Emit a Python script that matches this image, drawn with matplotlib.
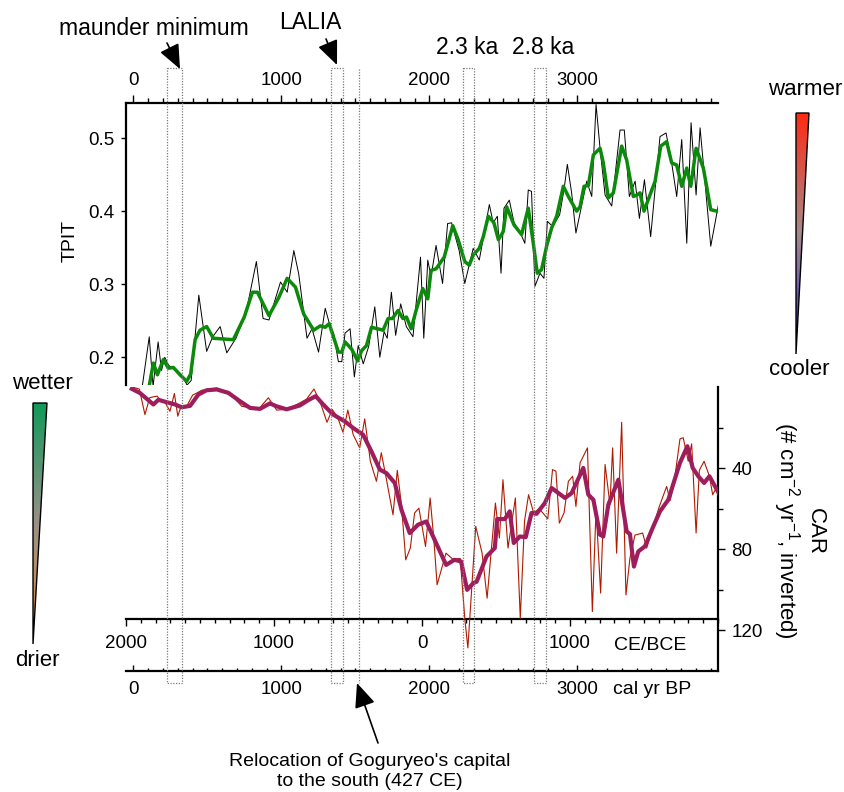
import numpy as np
import matplotlib
matplotlib.use('Agg')
import matplotlib.pyplot as plt
from matplotlib.ticker import MultipleLocator, FixedLocator
from matplotlib.patches import Rectangle, Polygon
from matplotlib.colors import LinearSegmentedColormap
import matplotlib.transforms as mtrans

plt.rcParams['font.family'] = ['Liberation Sans', 'DejaVu Sans']

# ---------------- data (cal yr BP) ----------------
tpit_raw_age = [60, 107, 133, 167, 190, 212, 235, 257, 290, 330,
                362, 390, 442, 495, 536, 586, 631, 693, 760, 831,
                876, 916, 994, 1039, 1084, 1117, 1173, 1207, 1251, 1296,
                1330, 1352, 1385, 1408, 1430, 1464, 1493, 1519, 1553, 1590,
                1631, 1665, 1694, 1715, 1743, 1772, 1806, 1844, 1889, 1940,
                1962, 1989, 2011, 2045, 2089, 2123, 2150, 2201, 2239, 2296,
                2337, 2405, 2431, 2459, 2484, 2504, 2540, 2572, 2610, 2645,
                2668, 2690, 2713, 2747, 2774, 2797, 2833, 2880, 2910, 2932,
                2961, 2990, 3063, 3097, 3126, 3153, 3187, 3232, 3288, 3317,
                3351, 3390, 3419, 3453, 3495, 3558, 3599, 3637, 3671, 3705,
                3739, 3768, 3802, 3829, 3901, 3955]
tpit_raw = [0.160, 0.228, 0.160, 0.221, 0.182, 0.200, 0.190, 0.185, 0.183, 0.175,
            0.162, 0.168, 0.285, 0.208, 0.228, 0.242, 0.206, 0.226, 0.260, 0.331,
            0.253, 0.251, 0.303, 0.289, 0.346, 0.314, 0.226, 0.239, 0.207, 0.267,
            0.242, 0.233, 0.194, 0.194, 0.233, 0.239, 0.173, 0.216, 0.191, 0.215,
            0.269, 0.200, 0.235, 0.226, 0.289, 0.230, 0.273, 0.242, 0.228, 0.337,
            0.226, 0.333, 0.310, 0.353, 0.301, 0.383, 0.384, 0.346, 0.301, 0.349,
            0.333, 0.409, 0.384, 0.393, 0.315, 0.404, 0.415, 0.384, 0.372, 0.356,
            0.429, 0.427, 0.297, 0.315, 0.308, 0.386, 0.379, 0.395, 0.430, 0.464,
            0.425, 0.370, 0.441, 0.420, 0.546, 0.486, 0.422, 0.407, 0.511, 0.511,
            0.420, 0.441, 0.390, 0.443, 0.365, 0.502, 0.507, 0.466, 0.420, 0.498,
            0.356, 0.521, 0.422, 0.514, 0.352, 0.411]

tpit_smooth_age = [108, 135, 162, 203, 236, 270, 315, 360, 387, 417,
                   450, 495, 540, 675, 749, 804, 838, 916, 983, 1039,
                   1095, 1151, 1218, 1263, 1296, 1323, 1385, 1408, 1430, 1475,
                   1515, 1542, 1575, 1609, 1649, 1687, 1721, 1750, 1788, 1821,
                   1845, 1877, 1910, 1955, 1989, 2011, 2045, 2100, 2158, 2194,
                   2239, 2269, 2296, 2337, 2364, 2398, 2436, 2466, 2499, 2522,
                   2572, 2623, 2668, 2702, 2729, 2758, 2792, 2826, 2860, 2905,
                   2939, 2995, 3018, 3045, 3074, 3108, 3153, 3175, 3209, 3243,
                   3299, 3333, 3378, 3401, 3423, 3450, 3525, 3563, 3603, 3637,
                   3671, 3705, 3739, 3766, 3802, 3851, 3901, 3941]
tpit_smooth = [0.162, 0.192, 0.176, 0.197, 0.185, 0.186, 0.176, 0.167, 0.177, 0.224,
               0.237, 0.242, 0.226, 0.224, 0.255, 0.289, 0.289, 0.257, 0.282, 0.308,
               0.296, 0.259, 0.237, 0.243, 0.241, 0.246, 0.207, 0.207, 0.221, 0.211,
               0.195, 0.209, 0.216, 0.241, 0.239, 0.237, 0.253, 0.253, 0.264, 0.253,
               0.255, 0.239, 0.264, 0.294, 0.280, 0.319, 0.321, 0.337, 0.380, 0.361,
               0.331, 0.326, 0.340, 0.349, 0.365, 0.393, 0.384, 0.361, 0.372, 0.406,
               0.381, 0.368, 0.404, 0.356, 0.315, 0.320, 0.352, 0.377, 0.393, 0.434,
               0.420, 0.400, 0.406, 0.434, 0.435, 0.477, 0.486, 0.466, 0.418, 0.425,
               0.489, 0.470, 0.420, 0.422, 0.425, 0.400, 0.441, 0.489, 0.495, 0.466,
               0.463, 0.434, 0.459, 0.434, 0.486, 0.459, 0.402, 0.400]

car_raw_age = [-11, 40, 78, 110, 131, 161, 176, 216, 247, 277,
               300, 322, 360, 400, 430, 462, 563, 653, 732, 845,
               912, 968, 1036, 1120, 1170, 1220, 1260, 1308, 1344, 1380,
               1416, 1449, 1485, 1529, 1563, 1601, 1642, 1675, 1710, 1754,
               1783, 1811, 1840, 1871, 1900, 1929, 1974, 2005, 2030, 2052,
               2112, 2160, 2208, 2240, 2260, 2313, 2356, 2390, 2446, 2473,
               2497, 2531, 2581, 2614, 2643, 2670, 2704, 2742, 2800, 2832,
               2855, 2878, 2910, 2939, 2968, 2990, 3018, 3068, 3101, 3126,
               3157, 3187, 3220, 3238, 3265, 3299, 3328, 3355, 3389, 3441,
               3468, 3524, 3553, 3603, 3626, 3650, 3693, 3715, 3749, 3772,
               3802, 3824, 3856, 3892, 3914, 3959]
car_raw = [0.0, 1.0, 13.6, 5.3, 4.9, 4.5, 6.0, 7.8, 12.0, 3.2,
           14.4, 9.5, 9.5, 4.0, 2.9, 1.6, 0.5, 3.2, 9.5, 11.0,
           5.3, 11.4, 11.0, 8.0, 6.0, 1.0, 7.0, 17.4, 11.1, 15.0,
           22.3, 11.4, 23.5, 30.0, 15.7, 36.6, 46.5, 32.4, 45.7, 63.0,
           41.1, 58.0, 85.2, 79.4, 62.1, 59.7, 78.6, 54.7, 75.0, 97.5,
           81.9, 85.0, 84.5, 114.8, 128.6, 68.7, 81.9, 104.1, 57.2, 74.4,
           45.7, 79.4, 54.7, 114.0, 65.9, 53.1, 62.0, 60.0, 65.0, 40.7,
           41.5, 67.1, 62.0, 46.5, 44.0, 58.9, 37.4, 30.0, 110.7, 60.0,
           101.6, 38.2, 58.0, 30.0, 81.9, 17.4, 102.5, 84.4, 73.0, 72.0,
           79.4, 66.0, 59.0, 49.0, 56.0, 49.0, 25.6, 25.0, 36.6, 28.0,
           72.0, 41.0, 36.6, 44.0, 53.1, 47.0]

car_smooth_age = [-11, 45, 135, 169, 225, 281, 326, 383, 439, 495,
                  563, 642, 720, 788, 855, 922, 967, 1035, 1125, 1181,
                  1232, 1282, 1350, 1428, 1485, 1552, 1608, 1665, 1710, 1766,
                  1811, 1867, 1923, 1979, 2035, 2113, 2169, 2214, 2255, 2296,
                  2319, 2386, 2442, 2458, 2510, 2543, 2570, 2611, 2651, 2690,
                  2724, 2780, 2826, 2916, 2961, 3040, 3074, 3108, 3153, 3175,
                  3209, 3277, 3333, 3355, 3382, 3411, 3457, 3513, 3558, 3614,
                  3693, 3743, 3779, 3817, 3856, 3892, 3955]
car_smooth = [0.9, 3.0, 8.6, 6.3, 7.5, 8.6, 10.0, 9.3, 3.7, 1.6,
              1.2, 2.9, 7.0, 10.3, 10.8, 8.1, 9.5, 11.0, 9.1, 6.5,
              4.5, 8.6, 13.6, 16.9, 20.2, 23.5, 31.7, 40.7, 42.5, 47.3,
              60.5, 72.0, 67.9, 66.3, 75.3, 87.7, 85.2, 86.0, 100.0, 96.7,
              96.0, 83.5, 79.4, 65.1, 65.1, 61.3, 76.9, 73.7, 74.0, 62.1,
              62.5, 57.2, 49.8, 54.7, 52.3, 39.9, 53.1, 55.6, 72.8, 73.7,
              58.0, 45.7, 71.2, 72.5, 88.5, 81.1, 78.5, 68.7, 61.3, 55.6,
              37.4, 29.2, 39.9, 44.0, 47.3, 44.0, 52.3]

# event windows (cal yr BP)
event_boxes = [(228, 328), (1335, 1415), (2225, 2302), (2707, 2788)]
relocation_bp = 1950 - 427

bp_ticks = [0, 1000, 2000, 3000]
ce_ticks = [2000, 1000, 0, -1000]
ce_labels = ['2000', '1000', '0', '1000']
tpit_ticks = [0.2, 0.3, 0.4, 0.5]
car_ticks = [40, 80, 120]
car_minor = [20, 60, 100]

# ---------------- layout ----------------
W, H = 845, 792
fig = plt.figure(figsize=(W / 100, H / 100), dpi=100)


def fbox(l, t, r, b):
    return [l / W, 1 - b / H, (r - l) / W, (b - t) / H]


XL = (-50, 3950)
SPW = 1.6
TFS = 13.5

ax_top = fig.add_axes(fbox(126, 103, 718, 385), zorder=2)
ax_bot = fig.add_axes(fbox(126, 387, 718, 671), zorder=2)
for a in (ax_top, ax_bot):
    a.patch.set_alpha(0)
    a.set_xlim(*XL)

# top panel
n = min(len(tpit_raw_age), len(tpit_raw))
ax_top.plot(tpit_raw_age[:n], tpit_raw[:n], color='black', lw=0.7, zorder=2)
n = min(len(tpit_smooth_age), len(tpit_smooth))
ax_top.plot(tpit_smooth_age[:n], tpit_smooth[:n], color='#0b8a0b', lw=2.5, zorder=3,
            solid_joinstyle='round')
ax_top.set_ylim(0.162, 0.548)
ax_top.spines[['right', 'bottom']].set_visible(False)
ax_top.spines[['left', 'top']].set_linewidth(SPW)
ax_top.xaxis.set_ticks_position('top')
ax_top.xaxis.set_label_position('top')
ax_top.set_xticks(bp_ticks)
ax_top.set_xticklabels([str(t) for t in bp_ticks])
ax_top.xaxis.set_minor_locator(MultipleLocator(100))
ax_top.tick_params(axis='x', which='major', direction='out', length=5.8, width=1,
                   labelsize=TFS, pad=4)
ax_top.tick_params(axis='x', which='minor', direction='out', length=3.5, width=1)
ax_top.set_yticks(tpit_ticks)
ax_top.set_yticklabels(['%.1f' % t for t in tpit_ticks])
ax_top.tick_params(axis='y', direction='out', length=3.6, width=1, labelsize=TFS, pad=5)

# bottom panel
n = min(len(car_raw_age), len(car_raw))
ax_bot.plot(car_raw_age[:n], car_raw[:n], color='#b01a00', lw=0.8, zorder=2)
n = min(len(car_smooth_age), len(car_smooth))
ax_bot.plot(car_smooth_age[:n], car_smooth[:n], color='#9e1d5c', lw=3.0, zorder=3,
            solid_joinstyle='round')
ax_bot.set_ylim(140, 0)
ax_bot.spines[['left', 'top']].set_visible(False)
ax_bot.spines[['right', 'bottom']].set_linewidth(SPW)
ax_bot.yaxis.set_ticks_position('right')
ax_bot.set_yticks(car_ticks)
ax_bot.set_yticklabels([str(t) for t in car_ticks])
ax_bot.yaxis.set_minor_locator(FixedLocator(car_minor))
ax_bot.tick_params(axis='y', which='major', direction='out', length=4.8, width=1,
                   labelsize=TFS, pad=5)
ax_bot.tick_params(axis='y', which='minor', direction='out', length=3.6, width=1)
ax_bot.set_xticks(bp_ticks)
ax_bot.set_xticklabels([str(t) for t in bp_ticks])
ax_bot.xaxis.set_minor_locator(MultipleLocator(100))
ax_bot.tick_params(axis='x', which='major', direction='in', length=4.2, width=1,
                   labelsize=TFS, pad=7.5)
ax_bot.tick_params(axis='x', which='minor', direction='in', length=2.5, width=1)

# CE/BCE axis inside bottom panel
sec = ax_bot.secondary_xaxis((671 - 619) / (671 - 387),
                             functions=(lambda x: 1950 - x, lambda x: 1950 - x))
sec.set_xticks(ce_ticks)
sec.set_xticklabels(ce_labels)
sec.xaxis.set_minor_locator(MultipleLocator(100))
sec.tick_params(which='major', direction='out', length=4.8, width=1, labelsize=TFS, pad=7)
sec.tick_params(which='minor', direction='out', length=3.0, width=1)
for s in sec.spines.values():
    s.set_linewidth(SPW)

# ---------------- overlay (pixel coordinates) ----------------
ov = fig.add_axes([0, 0, 1, 1], zorder=5)
ov.set_xlim(0, W)
ov.set_ylim(H, 0)
ov.axis('off')

blend = mtrans.blended_transform_factory(ax_top.transData, ov.transData)
for x0, x1 in event_boxes:
    ov.add_patch(Rectangle((x0, 68), x1 - x0, 683 - 68, transform=blend, fill=False,
                           ec='#7a7a7a', lw=0.9, ls=(0, (1, 1.2)), clip_on=False))
ov.plot([relocation_bp, relocation_bp], [69, 683], transform=blend, color='#7a7a7a',
        lw=0.9, ls=(0, (1, 1.2)), clip_on=False)

# texts
ov.text(154, 35, 'maunder minimum', ha='center', va='baseline', fontsize=16.5)
ov.text(310, 29, 'LALIA', ha='center', va='baseline', fontsize=16.5)
ov.text(467, 54, '2.3 ka', ha='center', va='baseline', fontsize=16.5)
ov.text(543, 54, '2.8 ka', ha='center', va='baseline', fontsize=16.5)
ov.text(70, 241, 'TPIT', ha='center', va='center', rotation=90, fontsize=14)
ov.text(815, 531, 'CAR', ha='center', va='center', rotation=270, fontsize=16)
ov.text(786, 530, r'(# cm$^{\mathregular{-2}}$ yr$^{\mathregular{-1}}$, inverted)',
        ha='center', va='center', rotation=270, fontsize=16)
ov.text(650, 650, 'CE/BCE', ha='center', va='baseline', fontsize=14)
ov.text(652, 694, 'cal yr BP', ha='center', va='baseline', fontsize=14)
ov.text(370, 766, "Relocation of Goguryeo's capital", ha='center', va='baseline', fontsize=14)
ov.text(370, 786, 'to the south (427 CE)', ha='center', va='baseline', fontsize=14)
ov.text(805, 95, 'warmer', ha='center', va='baseline', fontsize=16)
ov.text(799, 375, 'cooler', ha='center', va='baseline', fontsize=16)
ov.text(42, 389, 'wetter', ha='center', va='baseline', fontsize=16)
ov.text(37, 666, 'drier', ha='center', va='baseline', fontsize=16)

# arrows
aprops = dict(arrowstyle='-|>,head_length=0.75,head_width=0.32', mutation_scale=20,
              color='black', lw=1.2, shrinkA=0, shrinkB=0)
ov.annotate('', xy=(180, 69), xytext=(167, 43), arrowprops=aprops)
ov.annotate('', xy=(337, 65), xytext=(326, 39), arrowprops=aprops)
ov.annotate('', xy=(357, 683), xytext=(378, 743), arrowprops=aprops)

# gradient wedges
def wedge(pts, colors):
    xs = [p[0] for p in pts]
    ys = [p[1] for p in pts]
    cmap = LinearSegmentedColormap.from_list('w', colors)
    grad = np.linspace(0, 1, 256).reshape(-1, 1)
    im = ov.imshow(grad, cmap=cmap, aspect='auto',
                   extent=(min(xs), max(xs), max(ys), min(ys)), origin='upper', zorder=1)
    poly = Polygon(pts, closed=True, transform=ov.transData, fc='none', ec='black',
                   lw=1.0, zorder=2, joinstyle='miter')
    ov.add_patch(poly)
    im.set_clip_path(poly)


wedge([(796, 113), (809, 113), (796, 354)], ['#ff2a12', '#a58a8a', '#2c2cd6'])
wedge([(33, 403), (47, 403), (33, 644)], ['#109a5a', '#9a9088', '#e89030'])
ov.set_xlim(0, W)
ov.set_ylim(H, 0)

fig.savefig('out.png', dpi=100)
